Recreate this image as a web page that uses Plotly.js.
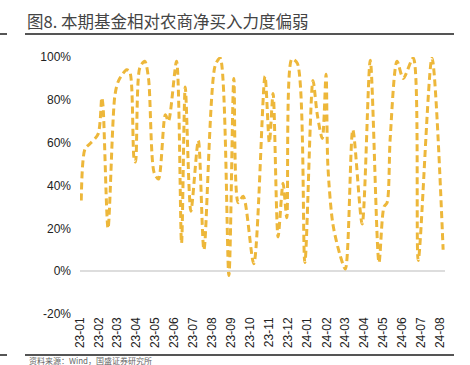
<!DOCTYPE html>
<html>
<head>
<meta charset="utf-8">
<script src="https://cdn.plot.ly/plotly-3.0.1.min.js"></script>
<style>
html,body{margin:0;padding:0;background:#fff;}
#chart{width:470px;height:365px;}
</style>
</head>
<body>
<div id="chart"></div>
<script>
// Data (percent)
var dates = [
  "2023-01-03","2023-01-09","2023-01-17","2023-01-30","2023-02-05","2023-02-07","2023-02-15",
  "2023-02-26","2023-03-04","2023-03-17","2023-03-22","2023-03-29","2023-03-31","2023-04-07",
  "2023-04-15","2023-04-21","2023-04-30","2023-05-07","2023-05-18","2023-05-23","2023-06-05",
  "2023-06-13","2023-06-19","2023-06-28","2023-07-10","2023-07-19","2023-08-06","2023-08-14",
  "2023-08-28","2023-09-05","2023-09-12","2023-09-20","2023-10-07","2023-10-25","2023-11-01",
  "2023-11-07","2023-11-15","2023-11-23","2023-11-29","2023-12-07","2023-12-16","2023-12-28",
  "2024-01-10","2024-01-17","2024-01-25","2024-01-31","2024-02-03","2024-02-11","2024-02-23",
  "2024-03-02","2024-03-14","2024-03-29","2024-04-11","2024-04-25","2024-05-03","2024-05-08",
  "2024-05-13","2024-05-24","2024-06-03","2024-06-19","2024-06-27","2024-07-19","2024-08-06"
];
var ratio = [
  33,57,59.5,64,81,77,20,
  82,89,94,93,52,51,95,
  98,90,46,43,73,70,98,
  13,86,28,61,10,96,99.5,
  -2,90,32,35,3.5,91,60,
  83,16,41,25,99,97,4,
  89,73,62,92,49,22,7,
  1,66,22,98.5,4,30,32,
  62,98,90,99.5,5,99.5,10
];
var yTicks = [-20,0,20,40,60,80,100];
var yTickText = ["-20%","0%","20%","40%","60%","80%","100%"];
var titleText = "图8. 本期基金相对农商净买入力度偏弱";
var sourceText = "资料来源：Wind，国盛证券研究所";

// plot area in pixels: x 80..445, y 57..314
var L = 80, R = 445, T = 57, B = 314, W = 470, H = 365;
function px(x){ return (x - L) / (R - L); }
function py(y){ return (B - y) / (B - T); }

var trace = {
  x: dates, y: ratio, type: "scatter", mode: "lines",
  line: {color: "#EDB73A", width: 3, dash: "7px,4px", shape: "spline", smoothing: 0.8},
  hoverinfo: "skip"
};

var lineColor = "#555555";
var layout = {
  width: W, height: H,
  margin: {l: L, r: W - R, t: T, b: H - B, pad: 0},
  paper_bgcolor: "#ffffff", plot_bgcolor: "#ffffff",
  showlegend: false,
  font: {family: "Liberation Sans, Arial, sans-serif", size: 12, color: "#222"},
  title: {
    text: titleText, xref: "container", yref: "container",
    x: 27 / W, xanchor: "left", y: 1 - 22 / H, yanchor: "middle",
    font: {family: "Noto Sans CJK SC", size: 16.5, color: "#444", weight: "normal"}
  },
  xaxis: {
    type: "date", range: ["2023-01-01", "2024-08-09"],
    dtick: "M1", tick0: "2023-01-01", tickformat: "%y-%m", tickangle: -90,
    showgrid: false, zeroline: false, showline: false, ticks: "",
    tickfont: {size: 12, color: "#222"}, fixedrange: true
  },
  yaxis: {
    range: [-20, 100], tickvals: yTicks, ticktext: yTickText,
    showgrid: false, zeroline: true, zerolinecolor: "#dddddd", zerolinewidth: 1.5,
    showline: false, ticks: "", ticklabelstandoff: 8,
    tickfont: {size: 12, color: "#222"}, fixedrange: true
  },
  shapes: [
    {type: "line", xref: "paper", yref: "paper", x0: px(25), x1: px(454), y0: py(34), y1: py(34), line: {color: lineColor, width: 2}},
    {type: "line", xref: "paper", yref: "paper", x0: px(0), x1: px(7), y0: py(34), y1: py(34), line: {color: lineColor, width: 2}},
    {type: "line", xref: "paper", yref: "paper", x0: px(25), x1: px(454), y0: py(355), y1: py(355), line: {color: lineColor, width: 2}},
    {type: "line", xref: "paper", yref: "paper", x0: px(0), x1: px(7), y0: py(355), y1: py(355), line: {color: lineColor, width: 2}}
  ],
  annotations: [
    {text: sourceText, xref: "paper", yref: "paper", x: px(27), y: py(360.5), xanchor: "left", yanchor: "middle",
     showarrow: false, font: {family: "Noto Sans CJK SC", size: 8, color: "#666"}}
  ]
};

Plotly.newPlot("chart", [trace], layout, {displayModeBar: false, staticPlot: true});
</script>
</body>
</html>
